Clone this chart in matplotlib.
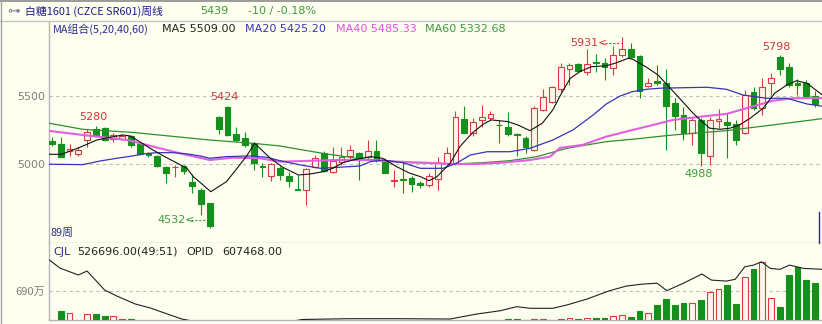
import matplotlib
matplotlib.use("Agg")
import matplotlib.pyplot as plt
import numpy as np
from matplotlib.lines import Line2D

# weekly bars, 白糖1601
opens = [5170, 5145, 5098, 5070, 5176, 5255, 5267, 5182, 5186, 5206,
         5145, 5078, 5059, 4980, 4975, 4985, 4865, 4809, 4710, 5345,
         5420, 5220, 5189, 5152, 4985, 4912, 4968, 4912, 4818, 4805,
         4980, 5083, 4943, 5017, 5059, 5078, 5049, 5098, 5024, 4877,
         4888, 4899, 4862, 4846, 4887, 5005, 5005, 5329, 5230, 5324,
         5336, 5290, 5270, 5220, 5189, 5103, 5397, 5458, 5549, 5696,
         5735, 5679, 5752, 5740, 5704, 5801, 5843, 5794, 5574, 5613,
         5598, 5451, 5360, 5226, 5324, 5059, 5318, 5311, 5292, 5226,
         5532, 5410, 5593, 5789, 5711, 5593, 5593, 5500]
highs = [5200, 5200, 5145, 5127, 5260, 5280, 5274, 5225, 5218, 5213,
         5152, 5090, 5066, 4985, 4993, 4993, 4924, 4821, 4715, 5350,
         5424, 5270, 5237, 5164, 5005, 5010, 4985, 4943, 4919, 4970,
         5066, 5098, 5127, 5127, 5140, 5090, 5176, 5176, 5042, 4956,
         5017, 4912, 4877, 4931, 5054, 5127, 5392, 5426, 5336, 5434,
         5392, 5324, 5385, 5225, 5206, 5426, 5549, 5574, 5740, 5740,
         5740, 5843, 5809, 5777, 5868, 5931, 5887, 5801, 5630, 5728,
         5696, 5483, 5417, 5348, 5336, 5343, 5402, 5373, 5324, 5544,
         5568, 5630, 5667, 5798, 5740, 5623, 5618, 5539]
lows = [5130, 5050, 5060, 5060, 5127, 5205, 5171, 5164, 5176, 5127,
        5064, 5050, 4980, 4858, 4907, 4924, 4784, 4625, 4532, 5220,
        5205, 5164, 5127, 4956, 4907, 4877, 4882, 4833, 4809, 4700,
        4968, 4943, 4934, 4993, 5030, 4882, 5030, 5017, 4931, 4833,
        4789, 4796, 4821, 4833, 4809, 4993, 4993, 5225, 5206, 5274,
        5324, 5152, 5206, 5059, 5078, 5098, 5390, 5451, 5532, 5581,
        5680, 5654, 5679, 5618, 5654, 5789, 5777, 5483, 5564, 5581,
        5103, 5250, 5176, 5140, 4988, 4993, 5262, 5042, 5140, 5220,
        5397, 5360, 5507, 5654, 5569, 5507, 5495, 5417]
closes = [5150, 5054, 5110, 5100, 5237, 5213, 5176, 5211, 5206, 5140,
          5071, 5064, 4985, 4936, 4980, 4949, 4838, 4704, 4545, 5260,
          5210, 5176, 5140, 5005, 4978, 5000, 4919, 4877, 4809, 4963,
          5046, 4951, 5024, 5054, 5103, 5042, 5098, 5030, 4936, 4885,
          4885, 4851, 4846, 4912, 5005, 5083, 5343, 5230, 5311, 5348,
          5368, 5285, 5218, 5213, 5123, 5410, 5490, 5564, 5711, 5728,
          5686, 5733, 5740, 5715, 5801, 5843, 5784, 5539, 5593, 5598,
          5426, 5353, 5230, 5324, 5079, 5324, 5328, 5287, 5176, 5507,
          5410, 5568, 5630, 5696, 5581, 5578, 5500, 5439]
# volume in 万手
volumes = [280, 420, 389, 290, 376, 376, 357, 353, 317, 313,
           270, 260, 280, 265, 250, 270, 285, 290, 280, 275,
           260, 250, 265, 270, 255, 260, 250, 245, 255, 265,
           250, 260, 255, 250, 245, 255, 260, 250, 245, 240,
           250, 245, 240, 255, 265, 270, 285, 280, 275, 290,
           285, 280, 313, 313, 300, 313, 313, 305, 317, 327,
           317, 327, 323, 323, 357, 363, 340, 424, 389, 500,
           579, 500, 530, 530, 566, 672, 708, 761, 513, 876,
           982, 1075, 593, 473, 895, 1005, 836, 796]

ma5_idx = [-0.3, 1.1, 3.2, 5.1, 6.6, 8.1, 8.9, 10.0, 11.5, 12.7, 14.3, 15.4,
           16.1, 17.1, 18.1, 19.9, 21.1, 22.2, 23.1, 24.9, 26.3, 28.1, 29.4,
           30.9, 32.0, 33.2, 34.3, 36.3, 37.7, 39.3, 40.8, 42.0, 43.0, 43.9,
           45.4, 46.5, 47.9, 49.2, 50.1, 52.0, 53.1, 54.5, 55.9, 57.1, 58.1,
           59.1, 60.2, 61.5, 63.1, 64.2, 65.7, 66.2, 67.8, 69.1, 70.5, 71.9,
           73.1, 73.9, 75.0, 76.2, 77.3, 78.4, 79.6, 81.1, 82.4, 83.8, 84.9,
           86.1, 87.8]
ma5_val = [5071, 5071, 5123, 5176, 5196, 5213, 5206, 5164, 5103, 5059, 5005,
           4968, 4907, 4853, 4796, 4870, 4968, 5059, 5152, 5042, 4976, 4919,
           4926, 4943, 4968, 5010, 5029, 5054, 5042, 4980, 4932, 4907, 4877,
           4907, 5005, 5127, 5226, 5294, 5324, 5311, 5287, 5245, 5299, 5397,
           5520, 5630, 5679, 5715, 5721, 5740, 5777, 5770, 5711, 5654, 5557,
           5458, 5373, 5324, 5263, 5255, 5263, 5287, 5336, 5410, 5520, 5581,
           5612, 5593, 5509]

ma20_idx = [-0.3, 3.5, 5.5, 7.4, 9.2, 10.4, 11.9, 13.8, 15.4, 16.9, 18.0,
            19.9, 22.6, 24.5, 26.0, 28.3, 30.6, 32.8, 35.1, 36.3, 37.7, 40.0,
            42.0, 44.6, 46.1, 47.7, 49.6, 52.2, 54.5, 57.1, 59.4, 61.7, 63.2,
            64.8, 66.2, 67.8, 69.3, 74.7, 76.9, 78.8, 81.5, 83.8, 86.1, 87.8]
ma20_val = [4998, 4995, 5022, 5042, 5059, 5074, 5083, 5083, 5074, 5059, 5042,
            5054, 5059, 5049, 5024, 4993, 4968, 4976, 4985, 5017, 5029, 5010,
            4968, 4968, 5005, 5066, 5090, 5090, 5115, 5176, 5250, 5360, 5441,
            5500, 5532, 5549, 5557, 5564, 5549, 5507, 5483, 5483, 5441, 5425]

ma40_idx = [-0.3, 3.5, 8.6, 12.3, 15.4, 18.0, 20.6, 23.7, 26.0, 32.5, 36.3,
            39.3, 42.3, 45.4, 48.4, 51.4, 54.5, 56.8, 57.9, 60.5, 63.2, 66.2,
            69.3, 70.8, 74.7, 76.9, 79.2, 82.2, 84.5, 87.8]
ma40_val = [5243, 5213, 5176, 5115, 5066, 5029, 5046, 5042, 5017, 5029, 5029,
            5017, 5010, 5000, 5000, 5010, 5029, 5054, 5118, 5140, 5201, 5250,
            5299, 5324, 5353, 5368, 5410, 5465, 5483, 5485]

ma60_idx = [-0.3, 3.5, 9.2, 18.0, 22.9, 26.0, 28.6, 31.3, 34.7, 37.7, 40.8,
            43.9, 46.1, 49.2, 52.2, 55.3, 58.7, 63.2, 66.2, 70.8, 76.9, 82.2,
            87.8]
ma60_val = [5299, 5255, 5232, 5176, 5152, 5132, 5103, 5074, 5042, 5022, 5010,
            5005, 5000, 5010, 5024, 5054, 5115, 5164, 5182, 5213, 5245, 5287,
            5333]

# open interest in 万手 (own scale)
opid_idx = [-0.3, 0.9, 3.0, 4.0, 6.0, 7.4, 9.5, 11.2, 13.5, 14.8, 16.9, 21.4,
            26.0, 27.7, 28.5, 33.8, 39.7, 45.4, 48.4, 51.1, 53.0, 54.5, 57.1,
            58.7, 61.0, 63.6, 65.5, 67.4, 69.0, 70.1, 72.0, 74.1, 75.2, 76.9,
            77.9, 79.0, 80.0, 80.9, 81.9, 83.0, 84.1, 85.7, 87.8]
opid_val = [66.4, 61.5, 57.3, 59.7, 48.2, 44.5, 39.7, 37.3, 33.0, 30.6, 28.5,
            27.0, 27.5, 29.5, 30.3, 30.8, 30.8, 30.6, 33.6, 35.6, 38.1, 37.1,
            37.1, 39.1, 42.7, 47.8, 50.6, 51.8, 52.3, 47.8, 52.3, 57.9, 54.2,
            53.6, 54.7, 62.3, 63.3, 65.3, 61.3, 60.7, 63.3, 61.3, 60.75]

W, H = 822, 324
BG = "#fffff0"
UP = "#d83c3c"
DOWN = "#14901c"
HOLLOW = "#fff4ee"
GRID = "#bdbdbd"
CJK = ["Noto Sans CJK SC", "DejaVu Sans"]
plt.rcParams["font.family"] = ["DejaVu Sans"]


def fx(x):
    return x / W


def fy(y):
    return 1 - y / H


fig = plt.figure(figsize=(W / 100, H / 100), dpi=100, facecolor=BG)
ax = fig.add_axes([fx(49), fy(243), fx(822) - fx(49), fy(21) - fy(243)])
axv = fig.add_axes([fx(49), fy(320), fx(822) - fx(49), fy(243) - fy(320)])
xlim = (-0.342, 87.8)

# ---- price panel
o, h, l, c = map(np.array, (opens, highs, lows, closes))
idx = np.arange(len(c))
up = c >= o
for sel, col, face in ((up, UP, HOLLOW), (~up, DOWN, DOWN)):
    ax.vlines(idx[sel], l[sel], h[sel], color=col, lw=0.8, zorder=2)
    ax.bar(idx[sel], np.maximum(np.abs(c - o)[sel], 4), width=0.66,
           bottom=np.minimum(o, c)[sel], facecolor=face, edgecolor=col,
           linewidth=0.8, zorder=3)

ax.plot(ma60_idx, ma60_val, color="#2f8f2f", lw=0.9, zorder=4)
ax.plot(ma40_idx, ma40_val, color="#e060e0", lw=1.5, zorder=4)
ax.plot(ma20_idx, ma20_val, color="#3535b8", lw=0.9, zorder=4)
ax.plot(ma5_idx, ma5_val, color="#111111", lw=0.8, zorder=5)

for v in (5000, 5500):
    ax.axhline(v, color=GRID, lw=0.8, ls=(0, (3, 3)), zorder=1)

ax.set_xlim(*xlim)
ax.set_ylim(4419, 6051)
ax.set_xticks([])
ax.set_yticks([5000, 5500])
ax.tick_params(axis="y", length=0, pad=3, labelsize=8, labelcolor="#7f7f7f")
ax.set_facecolor(BG)
for s in ("top", "right"):
    ax.spines[s].set_visible(False)
for s in ("left", "bottom"):
    ax.spines[s].set_color("#b4b4b4")
    ax.spines[s].set_linewidth(1)

red_lbl, green_lbl = "#cc3a3a", "#3c9c3c"
ax.text(4.67, 5343, "5280", color=red_lbl, fontsize=8, ha="center", va="center")
ax.text(19.7, 5495, "5424", color=red_lbl, fontsize=8, ha="center", va="center")
ax.text(82.6, 5858, "5798", color=red_lbl, fontsize=8, ha="center", va="center")
ax.text(73.7, 4924, "4988", color=green_lbl, fontsize=8, ha="center", va="center")
ax.text(12.0, 4588, "4532<", color=green_lbl, fontsize=8, ha="left", va="center")
ax.plot([15.4, 17.7], [4588, 4588], color=green_lbl, lw=0.8, ls=(0, (2, 1.5)))
ax.text(59.1, 5887, "5931<", color=red_lbl, fontsize=8, ha="left", va="center")
ax.plot([62.6, 64.9], [5887, 5887], color=red_lbl, lw=0.8, ls=(0, (2, 1.5)))

# ---- volume panel
v = np.array(volumes)
axv.bar(idx[up], v[up], width=0.66, facecolor=HOLLOW, edgecolor=UP,
        linewidth=0.8, zorder=3)
axv.bar(idx[~up], v[~up], width=0.66, facecolor=DOWN, edgecolor=DOWN,
        linewidth=0.8, zorder=3)
axv.axhline(690, color=GRID, lw=0.8, ls=(0, (3, 3)), zorder=1)
axv.set_xlim(*xlim)
axv.set_ylim(300, 1325)
axv.set_xticks([])
axv.set_yticks([690])
axv.set_yticklabels(["690万"], fontfamily=CJK)
axv.tick_params(axis="y", length=0, pad=3, labelsize=8, labelcolor="#7f7f7f")
axv.set_facecolor(BG)
for s in ("top", "right"):
    axv.spines[s].set_visible(False)
for s in ("left", "bottom"):
    axv.spines[s].set_color("#b4b4b4")
    axv.spines[s].set_linewidth(1)

axo = axv.twinx()
axo.plot(opid_idx, opid_val, color="#222222", lw=0.8, zorder=4)
axo.set_ylim(30, 76.7)
axo.set_xlim(*xlim)
axo.axis("off")

# ---- frame lines
fig.add_artist(Line2D([0, 1], [fy(0.6), fy(0.6)], color="#8a8a8a", lw=1.2))
fig.add_artist(Line2D([0, 1], [fy(21), fy(21)], color="#c4c4c4", lw=1))
fig.add_artist(Line2D([fx(0.6), fx(0.6)], [0, 1], color="#a0a0a0", lw=1))
fig.add_artist(Line2D([fx(819), fx(819)], [fy(212), fy(243)], color="#303080", lw=1))

# ---- header texts
def label(x, y, s, color, fam=None, size=8):
    fig.text(fx(x), fy(y), s, color=color, fontsize=size, ha="left",
             va="center", fontfamily=fam or ["DejaVu Sans"])


label(7, 11, "⊶", "#7a7a9a", size=9)
label(25, 11, "白糖1601 (CZCE SR601)周线", "#1c1c8c", CJK, 7.8)
label(200, 11, "5439", "#3a9a3a")
label(248, 11, "-10 / -0.18%", "#3a9a3a")
label(53, 29, "MA组合(5,20,40,60)", "#2a2a9a", CJK, 7.8)
label(162, 29, "MA5 5509.00", "#222222")
label(245, 29, "MA20 5425.20", "#3535b5")
label(336, 29, "MA40 5485.33", "#e050e0")
label(425, 29, "MA60 5332.68", "#3c9a3c")
label(50, 233, "89周", "#2a2a8a", CJK, 7.8)
label(53, 252, "CJL", "#2a2a8a")
label(77, 252, "526696.00(49:51)", "#222222")
label(186, 252, "OPID", "#222222")
label(222, 252, "607468.00", "#222222")

fig.savefig("out.png", dpi=100, facecolor=BG)
